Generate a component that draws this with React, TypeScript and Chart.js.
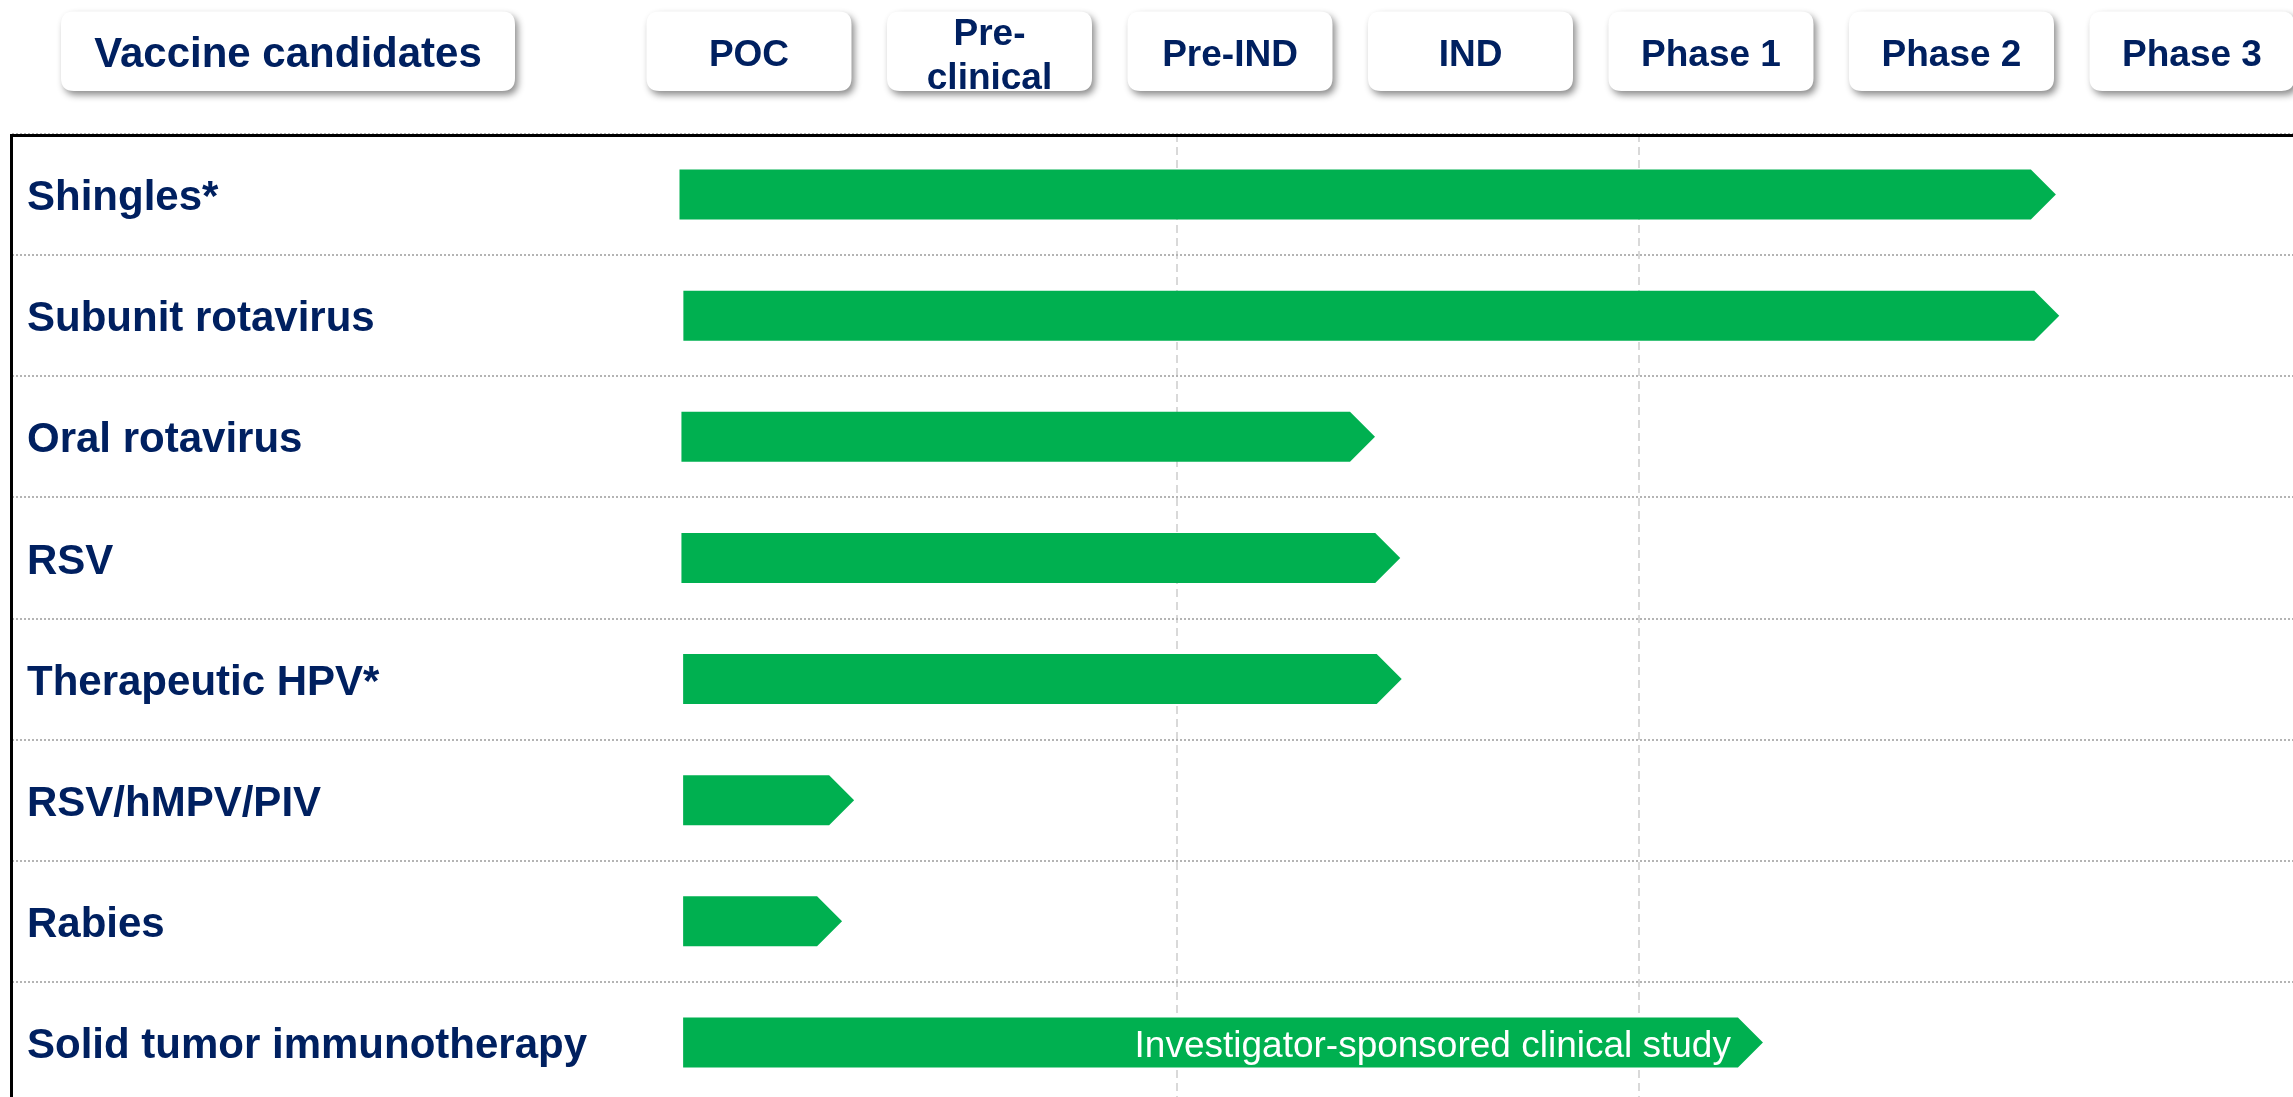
import React, { useEffect, useRef } from 'react';
import { Chart, registerables } from 'chart.js';

Chart.register(...registerables);

// ---- data ----
const candidates = [
  'Shingles*',
  'Subunit rotavirus',
  'Oral rotavirus',
  'RSV',
  'Therapeutic HPV*',
  'RSV/hMPV/PIV',
  'Rabies',
  'Solid tumor immunotherapy',
];
// progress in stage units (stage k spans [k, k+1]; 0 = start of POC)
const barStart = [0.211, 0.227, 0.219, 0.219, 0.226, 0.226, 0.226, 0.226];
const barEnd = [5.934, 5.948, 3.103, 3.208, 3.214, 0.937, 0.887, 4.716];
const barNotes = ['', '', '', '', '', '', '', 'Investigator-sponsored clinical study'];
const stages = ['POC', 'Pre-\nclinical', 'Pre-IND', 'IND', 'Phase 1', 'Phase 2', 'Phase 3'];
const headerTitle = 'Vaccine candidates';
const gridMarks = [2.28, 4.2];

const NAVY = '#002060';
const GREEN = '#00B050';
const FONT = "'Liberation Sans', Arial, sans-serif";

function roundRectPath(ctx: CanvasRenderingContext2D, x: number, y: number, w: number, h: number, r: number) {
  ctx.beginPath();
  ctx.moveTo(x + r, y);
  ctx.lineTo(x + w - r, y);
  ctx.quadraticCurveTo(x + w, y, x + w, y + r);
  ctx.lineTo(x + w, y + h - r);
  ctx.quadraticCurveTo(x + w, y + h, x + w - r, y + h);
  ctx.lineTo(x + r, y + h);
  ctx.quadraticCurveTo(x, y + h, x, y + h - r);
  ctx.lineTo(x, y + r);
  ctx.quadraticCurveTo(x, y, x + r, y);
  ctx.closePath();
}

const chevronBars = {
  id: 'chevronBars',
  beforeDatasetDraw(chart: any, args: any) {
    const ctx: CanvasRenderingContext2D = chart.ctx;
    const meta = args.meta;
    ctx.save();
    meta.data.forEach((el: any, i: number) => {
      const { x, y, base, height } = el.getProps(['x', 'y', 'base', 'height'], true);
      const h2 = height / 2;
      const tip = Math.min(h2, x - base);
      ctx.beginPath();
      ctx.moveTo(base, y - h2);
      ctx.lineTo(x - tip, y - h2);
      ctx.lineTo(x, y);
      ctx.lineTo(x - tip, y + h2);
      ctx.lineTo(base, y + h2);
      ctx.closePath();
      ctx.fillStyle = GREEN;
      ctx.fill();
      const note = barNotes[i];
      if (note) {
        ctx.font = `37px ${FONT}`;
        ctx.fillStyle = '#FFFFFF';
        ctx.textAlign = 'right';
        ctx.textBaseline = 'alphabetic';
        ctx.fillText(note, x - tip - 7, y + 14.5);
      }
    });
    ctx.restore();
    return false;
  },
};

const headerAndFrame = {
  id: 'headerAndFrame',
  afterDraw(chart: any) {
    const ctx: CanvasRenderingContext2D = chart.ctx;
    const { chartArea, scales } = chart;
    const xs = scales.x;
    const boxTop = 11.5;
    const boxH = 79.5;

    const drawBox = (x: number, w: number) => {
      ctx.save();
      ctx.shadowColor = 'rgba(0,0,0,0.45)';
      ctx.shadowBlur = 7;
      ctx.shadowOffsetX = 3;
      ctx.shadowOffsetY = 4;
      ctx.fillStyle = '#FFFFFF';
      roundRectPath(ctx, x, boxTop, w, boxH, 13);
      ctx.fill();
      ctx.restore();
    };

    ctx.save();
    // title box
    const tX = chartArea.left + 49;
    const tW = 454;
    drawBox(tX, tW);
    ctx.fillStyle = NAVY;
    ctx.textAlign = 'center';
    ctx.textBaseline = 'alphabetic';
    ctx.font = `bold 42px ${FONT}`;
    ctx.fillText(headerTitle, tX + tW / 2, 66.5);

    // stage boxes
    stages.forEach((s, i) => {
      const cx = xs.getPixelForValue(i + 0.5);
      const w = 205;
      drawBox(cx - w / 2, w);
      ctx.fillStyle = NAVY;
      ctx.font = `bold 37px ${FONT}`;
      const lines = s.split('\n');
      if (lines.length === 1) {
        ctx.fillText(lines[0], cx, 66);
      } else {
        ctx.fillText(lines[0], cx, 45);
        ctx.fillText(lines[1], cx, 89);
      }
    });

    // frame
    ctx.strokeStyle = '#000000';
    ctx.lineWidth = 3;
    ctx.beginPath();
    ctx.moveTo(chartArea.left - 0.5, chart.height);
    ctx.lineTo(chartArea.left - 0.5, chartArea.top + 1.5);
    ctx.lineTo(chart.width, chartArea.top + 1.5);
    ctx.stroke();
    ctx.restore();
  },
};

export default function App() {
  const ref = useRef<HTMLCanvasElement>(null);

  useEffect(() => {
    const canvas = ref.current;
    if (!canvas) return;
    const chart = new Chart(canvas, {
      type: 'bar',
      data: {
        labels: candidates,
        datasets: [
          {
            label: 'Stage',
            data: barStart.map((s, i) => [s, barEnd[i]]) as any,
            backgroundColor: GREEN,
            barThickness: 50,
          },
        ],
      },
      options: {
        indexAxis: 'y',
        responsive: false,
        animation: false,
        devicePixelRatio: 1,
        layout: { autoPadding: false, padding: { top: 134, left: 12, right: 0, bottom: 0 } },
        plugins: {
          legend: { display: false },
          tooltip: { enabled: false },
        },
        scales: {
          x: {
            type: 'linear',
            min: -2.5645,
            max: 6.92,
            display: true,
            afterBuildTicks: (scale: any) => {
              scale.ticks = gridMarks.map((v) => ({ value: v }));
            },
            afterFit: (scale: any) => {
              scale.height = 0;
              scale.paddingLeft = 0;
              scale.paddingRight = 0;
            },
            ticks: { display: false },
            grid: { color: '#D9D9D9', lineWidth: 2, drawTicks: false },
            border: { display: false, dash: [8, 5] },
          },
          y: {
            type: 'category',
            display: true,
            afterFit: (scale: any) => {
              scale.width = 0;
              scale.paddingTop = 0;
              scale.paddingBottom = 0;
            },
            ticks: {
              mirror: true,
              padding: 15,
              labelOffset: 4,
              autoSkip: false,
              color: NAVY,
              font: { family: FONT, size: 42, weight: 'bold' },
            },
            grid: { color: '#B4B4B4', lineWidth: 2, drawTicks: false },
            border: { display: false, dash: [2, 2] },
          },
        },
      },
      plugins: [chevronBars, headerAndFrame],
    });
    return () => chart.destroy();
  }, []);

  return (
    <div
      style={{
        position: 'fixed',
        left: 0,
        top: 0,
        width: 2293,
        height: 1097,
        overflow: 'hidden',
        background: '#FFFFFF',
      }}
    >
      <canvas ref={ref} width={2293} height={1103} style={{ display: 'block' }} />
    </div>
  );
}
